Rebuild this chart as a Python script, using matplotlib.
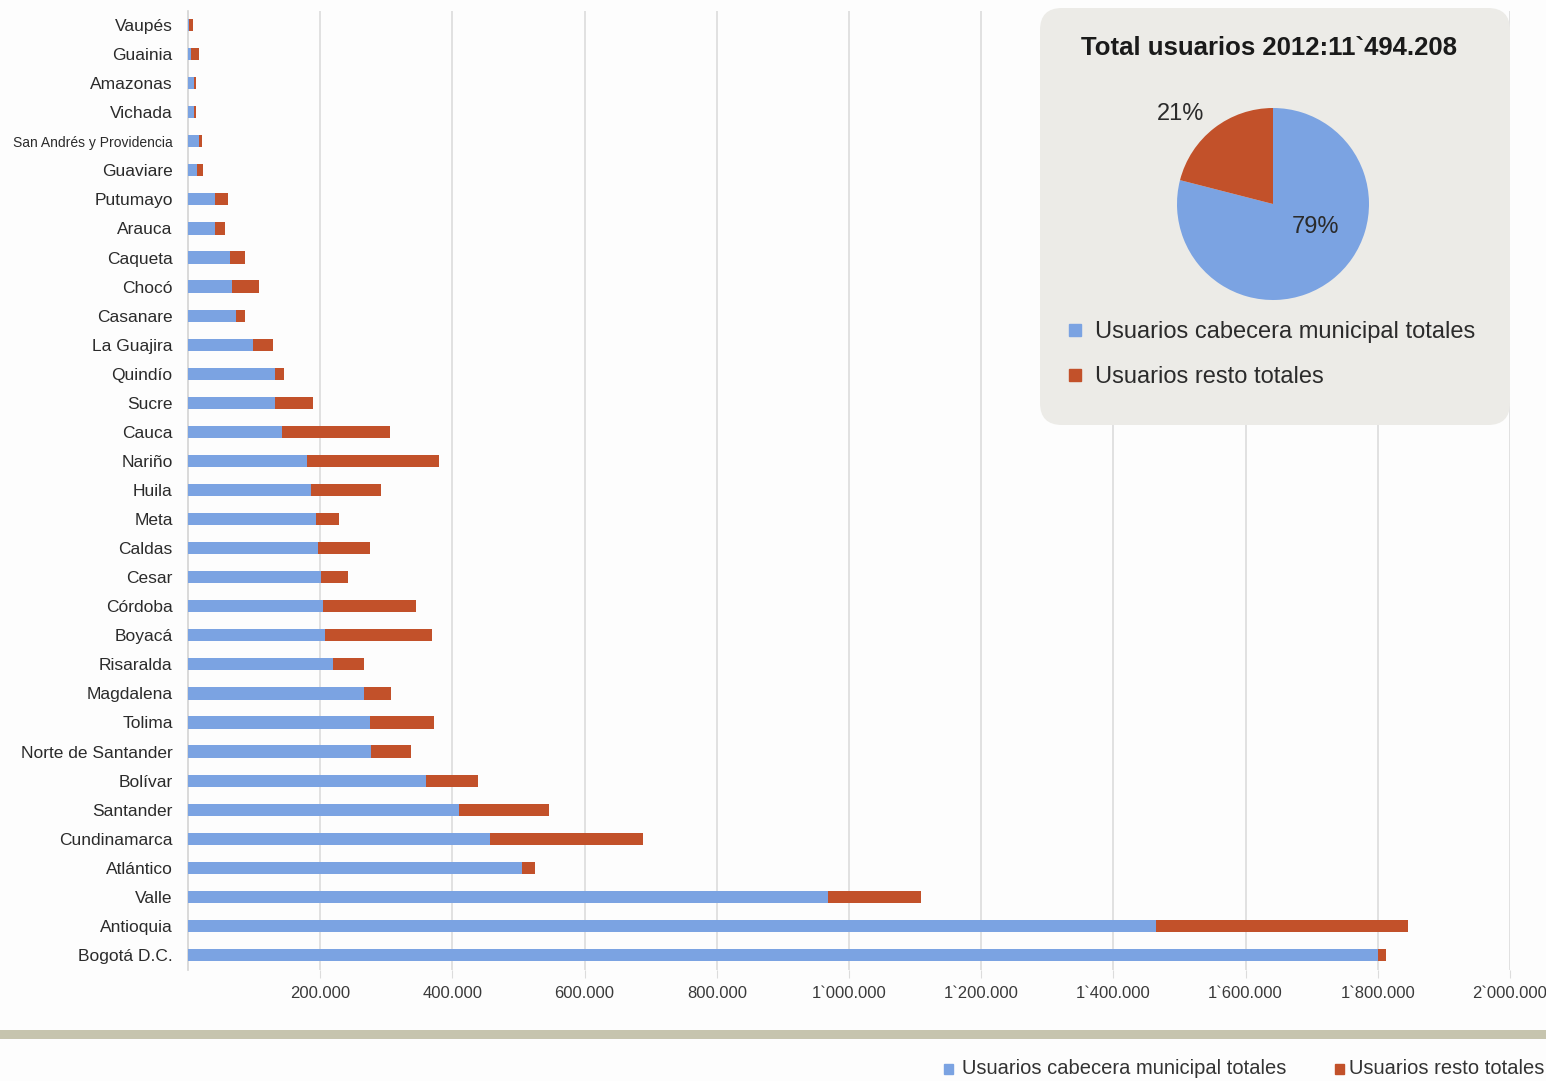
import matplotlib.pyplot as plt
from matplotlib.patches import FancyBboxPatch, Rectangle

plt.rcParams['font.family'] = ['Liberation Sans', 'DejaVu Sans']

# departamentos, de arriba hacia abajo
departamentos = ['Vaupés', 'Guainia', 'Amazonas', 'Vichada', 'San Andrés y Providencia',
                 'Guaviare', 'Putumayo', 'Arauca', 'Caqueta', 'Chocó', 'Casanare',
                 'La Guajira', 'Quindío', 'Sucre', 'Cauca', 'Nariño', 'Huila', 'Meta',
                 'Caldas', 'Cesar', 'Córdoba', 'Boyacá', 'Risaralda', 'Magdalena',
                 'Tolima', 'Norte de Santander', 'Bolívar', 'Santander', 'Cundinamarca',
                 'Atlántico', 'Valle', 'Antioquia', 'Bogotá D.C.']

cabecera = [2000, 4500, 9000, 9000, 17000, 14000, 41000, 41000, 63500, 67000, 72600,
            99000, 131600, 131600, 142700, 180000, 186000, 193600, 196000, 201700,
            203700, 207000, 220000, 267000, 275000, 277500, 360000, 410500, 457000,
            506000, 968000, 1464000, 1800000]

resto = [5000, 12000, 3000, 3000, 4000, 9000, 20000, 15000, 22000, 41000, 13000,
         30000, 14000, 58000, 163000, 199000, 106000, 35000, 79000, 41000,
         141000, 162000, 47000, 40000, 97000, 60000, 78000, 136000, 232000,
         19000, 141000, 381000, 13000]

xticks = [200000, 400000, 600000, 800000, 1000000, 1200000, 1400000, 1600000,
          1800000, 2000000]
xticklabels = ['200.000', '400.000', '600.000', '800.000', '1`000.000', '1`200.000',
               '1`400.000', '1`600.000', '1`800.000', '2`000.000']

pie_valores = [79, 21]
total_titulo = 'Total usuarios 2012:11`494.208'
series = ['Usuarios cabecera municipal totales', 'Usuarios resto totales']

azul = '#7BA3E2'
rojo = '#C2512A'
texto = '#2b2b2b'

W, H = 1546, 1081
fig = plt.figure(figsize=(W / 100, H / 100), dpi=100)
fig.patch.set_facecolor('#fdfdfd')

# barras apiladas horizontales
ax = fig.add_axes([188 / W, 1 - 969.5 / H, (1510 - 188) / W, 959 / H])
ax.set_facecolor('none')
n = len(departamentos)
pos = [n - 1 - i for i in range(n)]
ax.barh(pos, cabecera, height=0.42, color=azul, zorder=3)
ax.barh(pos, resto, left=cabecera, height=0.42, color=rojo, zorder=3)

ax.set_xlim(0, 2000000)
ax.set_ylim(-0.5, n - 0.5)
ax.set_yticks(pos)
ax.set_yticklabels(departamentos, fontsize=12.5, color=texto)
for lbl in ax.get_yticklabels():
    if lbl.get_text() == 'San Andrés y Providencia':
        lbl.set_fontsize(10)
ax.set_xticks(xticks)
ax.set_xticklabels(xticklabels, fontsize=12, color='#3a3a3a')
ax.tick_params(axis='y', length=0, pad=11)
ax.tick_params(axis='x', length=6, color='#dcdcdc', pad=6)
ax.grid(axis='x', color='#dcdcdc', linewidth=1.2, zorder=0)
for s in ['top', 'right', 'bottom']:
    ax.spines[s].set_visible(False)
ax.spines['left'].set_color('#d4d4d4')
ax.spines['left'].set_linewidth(1.2)

# recuadro con el total y la torta
caja = FancyBboxPatch((10.40, 6.56), 4.70, 4.17,
                      boxstyle='round,pad=0,rounding_size=0.22',
                      transform=fig.dpi_scale_trans, facecolor='#ecebe7',
                      edgecolor='none', zorder=1)
fig.add_artist(caja)

fig.text(1269 / W, 1 - 48 / H, total_titulo, ha='center', va='center',
         fontsize=18.5, fontweight='bold', color='#1a1a1a', zorder=3)

axp = fig.add_axes([1177 / W, 1 - 300 / H, 192 / W, 192 / H], zorder=2)
axp.pie(pie_valores, colors=[azul, rojo], startangle=90, counterclock=False,
        wedgeprops=dict(linewidth=0))
axp.set_xlim(-1, 1)
axp.set_ylim(-1, 1)
axp.set_aspect('equal')
axp.axis('off')
axp.text(0.44, -0.24, f'{pie_valores[0]}%', ha='center', va='center',
         fontsize=17, color=texto)
axp.text(-0.96, 0.94, f'{pie_valores[1]}%', ha='center', va='center',
         fontsize=17, color=texto)

# leyenda del recuadro
for y, col, lab in [(332, azul, series[0]), (377, rojo, series[1])]:
    fig.add_artist(Rectangle((1069 / W, 1 - (y + 4) / H), 12 / W, 12 / H,
                             transform=fig.transFigure, color=col, zorder=3))
    fig.text(1095 / W, 1 - y / H, lab, ha='left', va='center', fontsize=17,
             color=texto, zorder=3)

# franja inferior
fig.add_artist(Rectangle((0, 1 - 1039 / H), 1, 9 / H, transform=fig.transFigure,
                         facecolor='#c6c4ae', edgecolor='none', zorder=1))

# leyenda inferior
for x_sq, x_txt, col, lab in [(944, 962, azul, series[0]), (1335, 1349, rojo, series[1])]:
    fig.add_artist(Rectangle((x_sq / W, 1 - 1074 / H), 9 / W, 10 / H,
                             transform=fig.transFigure, color=col, zorder=3))
    fig.text(x_txt / W, 1 - 1069 / H, lab, ha='left', va='center', fontsize=14.5,
             color='#333333', zorder=3)

fig.savefig('out.png', dpi=100, facecolor=fig.get_facecolor())
